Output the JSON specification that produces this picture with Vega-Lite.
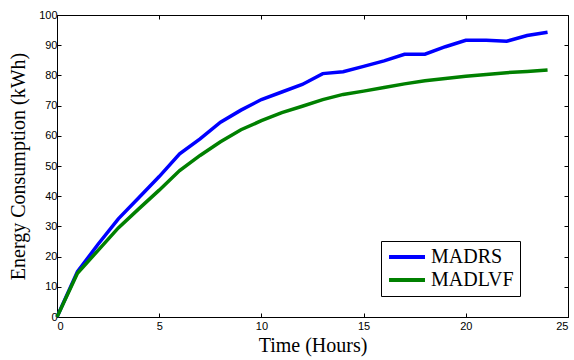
{
  "$schema": "https://vega.github.io/schema/vega-lite/v6.json",
  "width": 511,
  "height": 302,
  "autosize": "none",
  "padding": {"left": 57, "top": 15, "right": 6, "bottom": 43},
  "background": "white",
  "config": {
    "view": {"stroke": "black", "strokeWidth": 1},
    "axis": {
      "grid": false,
      "domainColor": "black",
      "tickColor": "black",
      "tickSize": -4,
      "labelFont": "Liberation Sans",
      "labelFontSize": 11,
      "labelColor": "black",
      "titleFont": "Liberation Serif",
      "titleFontSize": 20,
      "titleFontWeight": "normal",
      "titleColor": "black"
    }
  },
  "data": {
    "values": [
      {"t": 0, "e": 0, "s": "MADRS"},
      {"t": 1, "e": 15, "s": "MADRS"},
      {"t": 2, "e": 24, "s": "MADRS"},
      {"t": 3, "e": 32.5, "s": "MADRS"},
      {"t": 4, "e": 39.5, "s": "MADRS"},
      {"t": 5, "e": 46.5, "s": "MADRS"},
      {"t": 6, "e": 54, "s": "MADRS"},
      {"t": 7, "e": 59, "s": "MADRS"},
      {"t": 8, "e": 64.5, "s": "MADRS"},
      {"t": 9, "e": 68.5, "s": "MADRS"},
      {"t": 10, "e": 72, "s": "MADRS"},
      {"t": 11, "e": 74.5, "s": "MADRS"},
      {"t": 12, "e": 77, "s": "MADRS"},
      {"t": 13, "e": 80.6, "s": "MADRS"},
      {"t": 14, "e": 81.2, "s": "MADRS"},
      {"t": 15, "e": 83, "s": "MADRS"},
      {"t": 16, "e": 84.8, "s": "MADRS"},
      {"t": 17, "e": 87, "s": "MADRS"},
      {"t": 18, "e": 87, "s": "MADRS"},
      {"t": 19, "e": 89.5, "s": "MADRS"},
      {"t": 20, "e": 91.6, "s": "MADRS"},
      {"t": 21, "e": 91.6, "s": "MADRS"},
      {"t": 22, "e": 91.3, "s": "MADRS"},
      {"t": 23, "e": 93.2, "s": "MADRS"},
      {"t": 24, "e": 94.3, "s": "MADRS"},
      {"t": 0, "e": 0, "s": "MADLVF"},
      {"t": 1, "e": 14.5, "s": "MADLVF"},
      {"t": 2, "e": 22, "s": "MADLVF"},
      {"t": 3, "e": 29.5, "s": "MADLVF"},
      {"t": 4, "e": 35.8, "s": "MADLVF"},
      {"t": 5, "e": 42, "s": "MADLVF"},
      {"t": 6, "e": 48.5, "s": "MADLVF"},
      {"t": 7, "e": 53.5, "s": "MADLVF"},
      {"t": 8, "e": 58, "s": "MADLVF"},
      {"t": 9, "e": 62, "s": "MADLVF"},
      {"t": 10, "e": 65, "s": "MADLVF"},
      {"t": 11, "e": 67.7, "s": "MADLVF"},
      {"t": 12, "e": 69.8, "s": "MADLVF"},
      {"t": 13, "e": 72, "s": "MADLVF"},
      {"t": 14, "e": 73.7, "s": "MADLVF"},
      {"t": 15, "e": 74.8, "s": "MADLVF"},
      {"t": 16, "e": 76, "s": "MADLVF"},
      {"t": 17, "e": 77.2, "s": "MADLVF"},
      {"t": 18, "e": 78.2, "s": "MADLVF"},
      {"t": 19, "e": 79, "s": "MADLVF"},
      {"t": 20, "e": 79.7, "s": "MADLVF"},
      {"t": 21, "e": 80.3, "s": "MADLVF"},
      {"t": 22, "e": 80.9, "s": "MADLVF"},
      {"t": 23, "e": 81.3, "s": "MADLVF"},
      {"t": 24, "e": 81.8, "s": "MADLVF"}
    ]
  },
  "layer": [
    {
      "mark": {"type": "line", "strokeWidth": 3.5},
      "encoding": {
        "x": {
          "field": "t", "type": "quantitative",
          "scale": {"domain": [0, 25], "nice": false},
          "axis": {"orient": "bottom", "title": "Time (Hours)", "values": [0, 5, 10, 15, 20, 25], "labelPadding": 7, "titlePadding": 4}
        },
        "y": {
          "field": "e", "type": "quantitative",
          "scale": {"domain": [0, 100], "nice": false},
          "axis": {"orient": "left", "title": "Energy Consumption (kWh)", "values": [0, 10, 20, 30, 40, 50, 60, 70, 80, 90, 100], "labelPadding": 4, "titlePadding": 10}
        },
        "color": {
          "field": "s", "type": "nominal",
          "scale": {"domain": ["MADRS", "MADLVF"], "range": ["#0000ff", "#008000"]},
          "legend": {
            "title": null,
            "orient": "none",
            "legendX": 324,
            "legendY": 226,
            "symbolType": "stroke",
            "symbolSize": 1296,
            "symbolStrokeWidth": 4,
            "clipHeight": 20,
            "labelFont": "Liberation Serif",
            "labelFontSize": 20,
            "labelColor": "black",
            "rowPadding": 3,
            "padding": 6,
            "strokeColor": "black",
            "fillColor": "white",
            "labelOffset": 4
          }
        }
      }
    },
    {
      "mark": {"type": "line", "strokeOpacity": 0},
      "encoding": {
        "x": {
          "field": "t", "type": "quantitative",
          "axis": {"orient": "top", "title": null, "labels": false, "values": [0, 5, 10, 15, 20, 25], "domain": false}
        },
        "y": {
          "field": "e", "type": "quantitative",
          "axis": {"orient": "right", "title": null, "labels": false, "values": [0, 10, 20, 30, 40, 50, 60, 70, 80, 90, 100], "domain": false}
        },
        "detail": {"field": "s"}
      }
    }
  ],
  "resolve": {"axis": {"x": "independent", "y": "independent"}}
}
